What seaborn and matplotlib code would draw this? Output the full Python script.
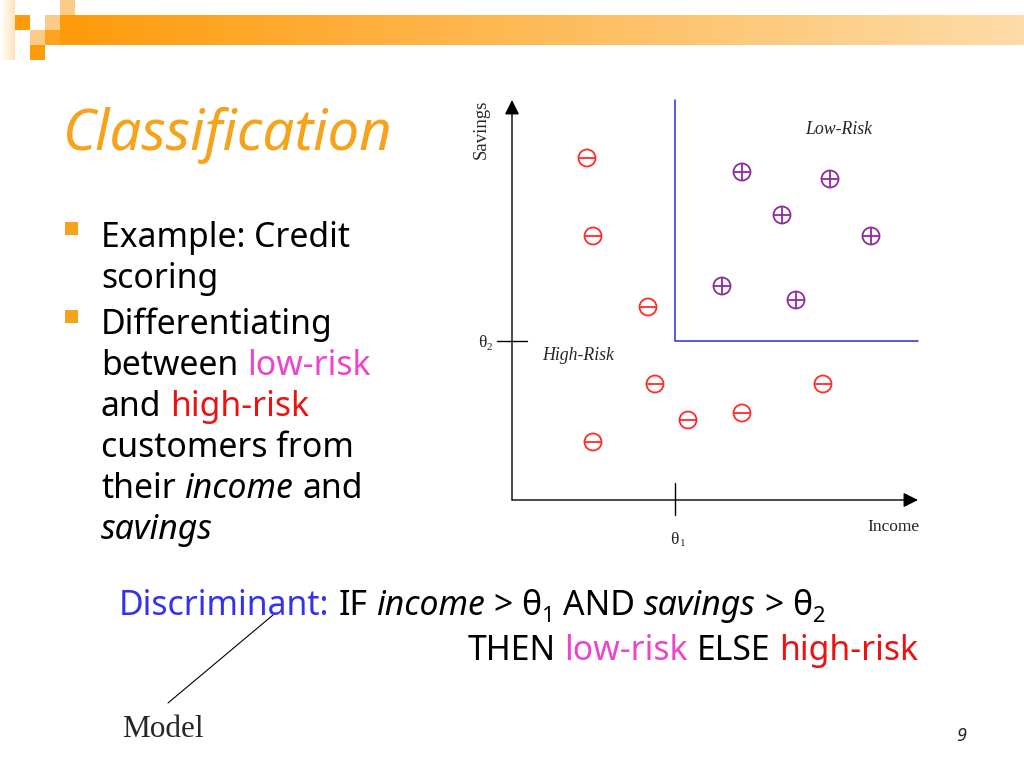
import numpy as np
import pandas as pd
import matplotlib
matplotlib.use('Agg')
import matplotlib.pyplot as plt
from matplotlib.patches import Rectangle
from matplotlib.colors import LinearSegmentedColormap
import seaborn as sns

sns.set_theme(style='white')
plt.rcParams['font.family'] = ['Noto Sans', 'DejaVu Sans']

# customers: income / savings (arbitrary units)
high_income = [75, 81, 136, 143, 176, 230, 311, 81]
high_savings = [342, 264, 193, 116, 80, 87, 116, 58]
low_income = [230, 318, 270, 359, 210, 284]
low_savings = [328, 321, 285, 264, 214, 200]
theta1 = 163
theta2 = 159

df = pd.concat([
    pd.DataFrame({'income': high_income, 'savings': high_savings, 'risk': 'high'}),
    pd.DataFrame({'income': low_income, 'savings': low_savings, 'risk': 'low'}),
])
risk_color = {'high': '#FF2A2A', 'low': '#8E2A9E'}
risk_sign = {'high': '_', 'low': '+'}

ORANGE = '#F7A21B'
SERIF = 'Liberation Serif'

fig = plt.figure(figsize=(10.24, 7.68), dpi=100)
bg = fig.add_axes([0, 0, 1, 1])
bg.axis('off')

# slide banner
cmap = LinearSegmentedColormap.from_list('banner', ['#FF9A08', '#FDDCA8'])
bg.imshow(np.linspace(0, 1, 256).reshape(1, -1), extent=(45, 1024, 45, 15),
          aspect='auto', cmap=cmap, zorder=0)
bg.imshow(np.linspace(0, 1, 64).reshape(1, -1), extent=(0, 15, 60, 0), aspect='auto',
          cmap=LinearSegmentedColormap.from_list('fade', ['#FFFFFF', '#FCE3BC']), zorder=0)
for x, y, c in [(15, 15, '#FF9A08'), (30, 45, '#FF9A08'), (30, 30, '#FCCB85'),
                (45, 15, '#FCCB85'), (60, 0, '#FCCB85'), (45, 30, '#FFA21E')]:
    bg.add_patch(Rectangle((x, y), 15, 15, color=c, lw=0, zorder=1))

bg.set_xlim(0, 1024)
bg.set_ylim(768, 0)

renderer = fig.canvas.get_renderer()


def draw_line(x, y, parts, size, ha='left'):
    texts, widths = [], []
    for s, color, style, rel, dy in parts:
        if s == ' ':
            texts.append(None)
            widths.append(size * rel * 100 / 72 * 0.26)
            continue
        t = bg.text(0, y + dy, s, fontsize=size * rel, color=color, style=style,
                    va='baseline', ha='left')
        texts.append(t)
        widths.append(t.get_window_extent(renderer).width)
    cx = x if ha == 'left' else x - sum(widths)
    for t, w in zip(texts, widths):
        if t is not None:
            t.set_x(cx)
        cx += w


SP = (' ', 'k', 'normal', 1, 0)

bg.text(63, 150, 'Classification', fontsize=40.5, style='italic', color=ORANGE, va='baseline')

# bullets
for yb in [222, 310]:
    bg.add_patch(Rectangle((65, yb), 13, 13, color=ORANGE, lw=0))

bsize = 24.3
bullet_lines = [
    (247, [('Example: Credit', 'black', 'normal', 1, 0)]),
    (288, [('scoring', 'black', 'normal', 1, 0)]),
    (334, [('Differentiating', 'black', 'normal', 1, 0)]),
    (375, [('between', 'black', 'normal', 1, 0), SP, ('low-risk', '#EE44CC', 'normal', 1, 0)]),
    (416, [('and', 'black', 'normal', 1, 0), SP, ('high-risk', '#EE1111', 'normal', 1, 0)]),
    (457, [('customers from', 'black', 'normal', 1, 0)]),
    (498, [('their', 'black', 'normal', 1, 0), SP, ('income', 'black', 'italic', 1, 0), SP,
           ('and', 'black', 'normal', 1, 0)]),
    (539, [('savings', 'black', 'italic', 1, 0)]),
]
for yl, parts in bullet_lines:
    draw_line(101, yl, parts, bsize)

# discriminant rule
line1 = [('Discriminant:', '#3333EE', 'normal', 1, 0), SP, ('IF', 'black', 'normal', 1, 0), SP,
         ('income', 'black', 'italic', 1, 0), SP, ('>', 'black', 'normal', 1, 0), SP,
         ('θ', 'black', 'normal', 1, 0), ('1', 'black', 'normal', 0.65, 7), SP,
         ('AND', 'black', 'normal', 1, 0), SP, ('savings', 'black', 'italic', 1, 0), SP,
         ('>', 'black', 'normal', 1, 0), SP, ('θ', 'black', 'normal', 1, 0),
         ('2', 'black', 'normal', 0.65, 7)]
draw_line(119, 615, line1, 24.3)
line2 = [('THEN', 'black', 'normal', 1, 0), SP, ('low-risk', '#EE44CC', 'normal', 1, 0), SP,
         ('ELSE', 'black', 'normal', 1, 0), SP, ('high-risk', '#EE1111', 'normal', 1, 0)]
draw_line(918, 660, line2, 24.3, ha='right')

bg.plot([273, 168], [615, 703], color='black', lw=0.8)
bg.text(122, 737, 'Model', fontsize=22.5, family=SERIF, va='baseline')
bg.text(961, 741, '9', fontsize=13, style='italic', color='#222222', va='baseline', ha='center')

# scatter panel
ax = fig.add_axes([512 / 1024, 268 / 768, 406 / 1024, 400 / 768])
ax.set_xlim(0, 406)
ax.set_ylim(0, 400)
ax.axis('off')

for risk, grp in df.groupby('risk'):
    col = risk_color[risk]
    sns.scatterplot(data=grp, x='income', y='savings', ax=ax, marker='o', s=150,
                    facecolor='none', edgecolor=col, color=col, linewidth=1.3, legend=False)
    sns.scatterplot(data=grp, x='income', y='savings', ax=ax, marker=risk_sign[risk], s=150,
                    color=col, linewidth=1.3, legend=False)

arrow = dict(arrowstyle='-|>', color='black', lw=1, mutation_scale=22, shrinkA=0, shrinkB=0)
ax.annotate('', xy=(406, 0), xytext=(0, 0), arrowprops=arrow, annotation_clip=False)
ax.annotate('', xy=(0, 400), xytext=(0, 0), arrowprops=arrow, annotation_clip=False)
ax.plot([theta1, theta1], [-15, 17], color='black', lw=1, clip_on=False)
ax.plot([-15, 15], [theta2, theta2], color='black', lw=1, clip_on=False)
ax.plot([theta1, theta1, 406], [400, theta2, theta2], color='#2B2BD8', lw=1.1, clip_on=False)

ax.text(-31, 371, 'Savings', rotation=90, ha='center', va='center', fontsize=13.5, family=SERIF)
ax.text(381, -27, 'Income', ha='center', va='center', fontsize=12.5, family=SERIF)
ax.text(327, 371, 'Low-Risk', ha='center', va='center', fontsize=12.8, family=SERIF, style='italic')
ax.text(66, 145, 'High-Risk', ha='center', va='center', fontsize=12.8, family=SERIF, style='italic')
ax.text(theta1 - 1, -40, 'θ', ha='center', va='center', fontsize=12.5, family=SERIF)
ax.text(theta1 + 5, -44, '1', ha='left', va='center', fontsize=8, family=SERIF)
ax.text(-30, 157, 'θ', ha='center', va='center', fontsize=12.5, family=SERIF)
ax.text(-25, 153, '2', ha='left', va='center', fontsize=8, family=SERIF)

fig.savefig('out.png', dpi=100)
